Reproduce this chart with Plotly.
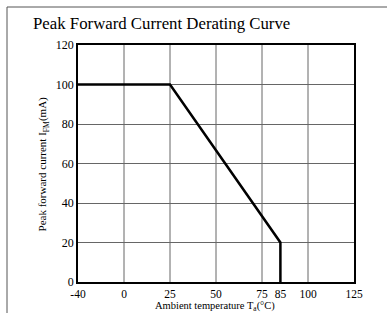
import plotly.graph_objects as go

# Data
temps = [-40, 25, 85, 85]          # ambient temperature (°C)
currents = [100, 100, 20, 0]       # peak forward current (mA)
x_tick_values = [-40, 0, 25, 50, 75, 85, 100, 125]
x_tick_labels = ["-40", "0", "25", "50", "75", "85", "100", "125"]
y_tick_values = [0, 20, 40, 60, 80, 100, 120]
grid_x = [0, 25, 50, 75, 100]


def axis_pos(t):
    # the -40..0 segment is drawn compressed to the same width as 25 degrees
    return t * 25 / 40 if t < 0 else t


fig = go.Figure()

fig.add_trace(go.Scatter(
    x=[axis_pos(t) for t in temps], y=currents, mode="lines",
    line=dict(color="black", width=2.5), showlegend=False, hoverinfo="skip"))

serif = "Liberation Serif, Times New Roman, serif"

fig.update_layout(
    width=387, height=313,
    margin=dict(l=78, r=33, t=45, b=31),
    paper_bgcolor="white", plot_bgcolor="white",
    font=dict(family=serif, size=12, color="black"),
    xaxis=dict(
        range=[axis_pos(-40), 125],
        tickmode="array",
        tickvals=[axis_pos(v) for v in x_tick_values],
        ticktext=x_tick_labels,
        showgrid=False, zeroline=False,
        showline=True, linecolor="black", linewidth=1.5, mirror=True,
        ticks="", ticklen=0,
        tickfont=dict(family=serif, size=11.5, color="black"),
    ),
    yaxis=dict(
        range=[0, 120],
        tickmode="array", tickvals=y_tick_values,
        showgrid=True, gridcolor="#666666", gridwidth=1,
        zeroline=False,
        showline=True, linecolor="black", linewidth=1.5, mirror=True,
        ticks="", ticklen=0,
        tickfont=dict(family=serif, size=12, color="black"),
    ),
)

# vertical grid lines at regular temperatures
for g in grid_x:
    fig.add_shape(type="line", xref="x", yref="paper",
                  x0=axis_pos(g), x1=axis_pos(g), y0=0, y1=1,
                  line=dict(color="#666666", width=1), layer="below")

# page frame lines (top and left)
fig.add_shape(type="line", xref="paper", yref="paper",
              x0=-0.2572, x1=1.13, y0=1.1603, y1=1.1603,
              line=dict(color="#555555", width=1))
fig.add_shape(type="line", xref="paper", yref="paper",
              x0=-0.2572, x1=-0.2572, y0=1.1603, y1=-0.15,
              line=dict(color="#555555", width=1))

fig.add_annotation(text="Peak Forward Current Derating Curve",
                   xref="paper", yref="paper", x=-0.172, y=1.14,
                   xanchor="left", yanchor="top", showarrow=False,
                   font=dict(family=serif, size=16.8, color="black"))
fig.add_annotation(text="Peak forward current I<sub>FM</sub>(mA)",
                   xref="paper", yref="paper", x=-0.127, y=0.5,
                   xanchor="center", yanchor="middle", textangle=-90,
                   showarrow=False, font=dict(family=serif, size=11, color="black"))
fig.add_annotation(text="Ambient temperature T<sub>a</sub>(°C)",
                   xref="paper", yref="paper", x=0.497, y=-0.07,
                   xanchor="center", yanchor="top", borderpad=0,
                   showarrow=False, font=dict(family=serif, size=10.5, color="black"))

fig.write_html(
    "out.html",
    config={"displayModeBar": False},
    post_script="document.body.style.margin='0';document.body.style.overflow='hidden';",
)
